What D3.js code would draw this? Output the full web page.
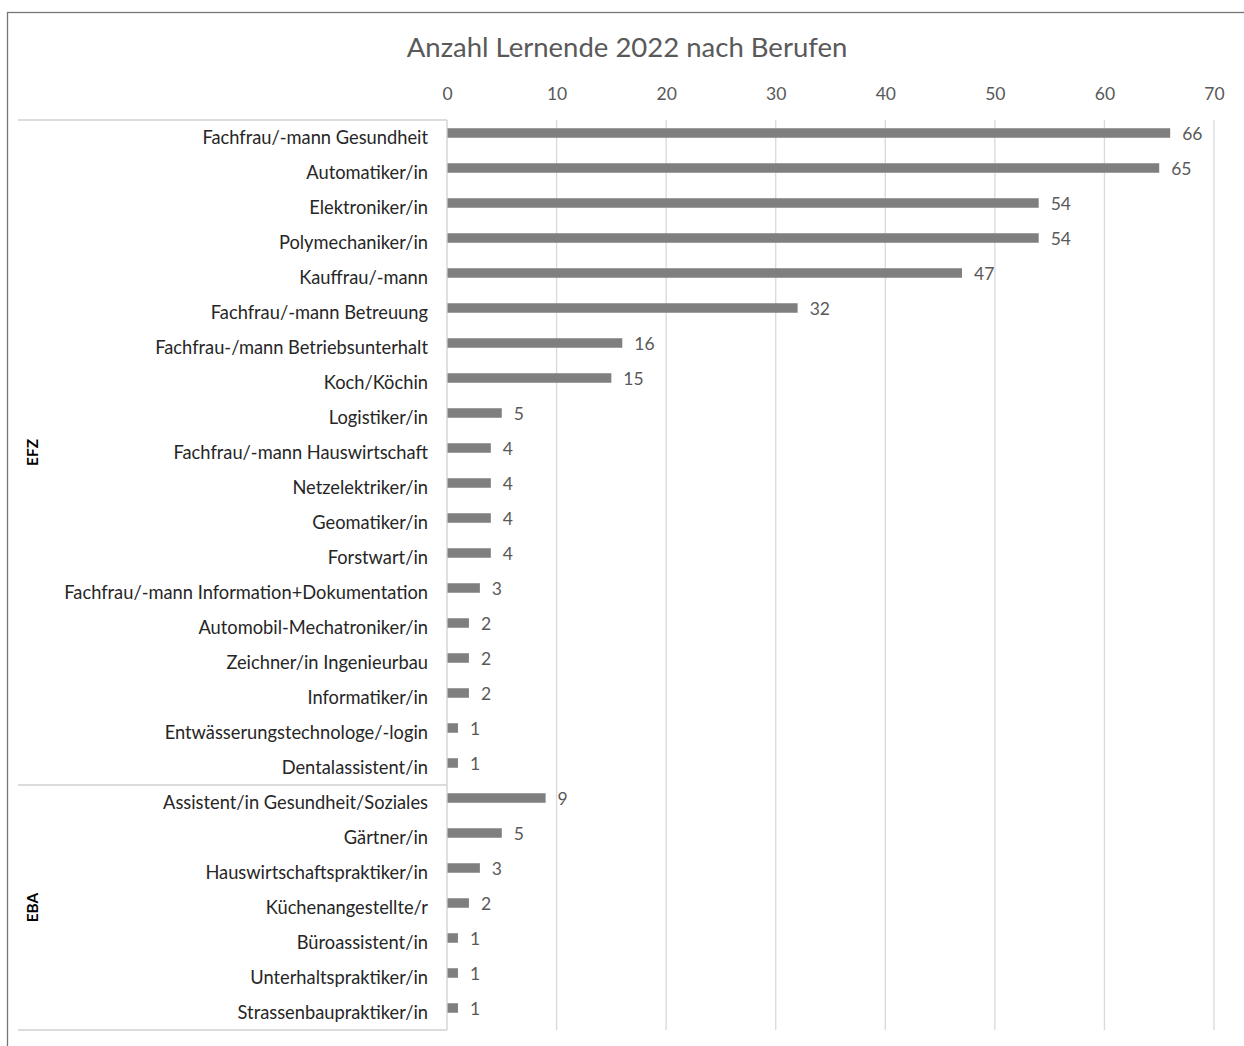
<!DOCTYPE html>
<html>
<head>
<meta charset="utf-8">
<script src="https://cdn.jsdelivr.net/npm/d3@7"></script>
<style>
  body { margin: 0; background: #fff; }
  text { font-family: Lato, "Open Sans", sans-serif; }
</style>
</head>
<body>
<div id="chart"></div>
<script>
// Daten
const efzBerufe = [
  "Fachfrau/-mann Gesundheit", "Automatiker/in", "Elektroniker/in", "Polymechaniker/in",
  "Kauffrau/-mann", "Fachfrau/-mann Betreuung", "Fachfrau-/mann Betriebsunterhalt",
  "Koch/Köchin", "Logistiker/in", "Fachfrau/-mann Hauswirtschaft", "Netzelektriker/in",
  "Geomatiker/in", "Forstwart/in", "Fachfrau/-mann Information+Dokumentation",
  "Automobil-Mechatroniker/in", "Zeichner/in Ingenieurbau", "Informatiker/in",
  "Entwässerungstechnologe/-login", "Dentalassistent/in"
];
const efzWerte = [66, 65, 54, 54, 47, 32, 16, 15, 5, 4, 4, 4, 4, 3, 2, 2, 2, 1, 1];
const ebaBerufe = [
  "Assistent/in Gesundheit/Soziales", "Gärtner/in", "Hauswirtschaftspraktiker/in",
  "Küchenangestellte/r", "Büroassistent/in", "Unterhaltspraktiker/in", "Strassenbaupraktiker/in"
];
const ebaWerte = [9, 5, 3, 2, 1, 1, 1];
const gruppen = ["EFZ", "EBA"];
const xTicks = [0, 10, 20, 30, 40, 50, 60, 70];

const rows = [
  ...efzBerufe.map((b, i) => ({ gruppe: "EFZ", beruf: b, wert: efzWerte[i] })),
  ...ebaBerufe.map((b, i) => ({ gruppe: "EBA", beruf: b, wert: ebaWerte[i] }))
];
rows.forEach((d, i) => (d.key = i));

const W = 1244, H = 1046;
const plotL = 447, plotR = 1214, plotT = 120, plotB = 1030, groupLeft = 18;

const svg = d3.select("#chart").append("svg")
  .attr("width", W).attr("height", H);

// Rahmen
svg.append("rect")
  .attr("x", 7.5).attr("y", 12.5)
  .attr("width", W).attr("height", H)
  .attr("fill", "none").attr("stroke", "#767676").attr("stroke-width", 1.3);

const x = d3.scaleLinear().domain([0, 70]).range([plotL, plotR]);
const y = d3.scaleBand().domain(rows.map((d) => d.key)).range([plotT, plotB]);

// Titel
svg.append("text")
  .attr("x", 627).attr("y", 57)
  .attr("text-anchor", "middle")
  .attr("fill", "#595959")
  .style("font-size", "27.5px")
  .text("Anzahl Lernende 2022 nach Berufen");

// Gitterlinien
svg.append("g").selectAll("line")
  .data(xTicks.slice(1))
  .join("line")
  .attr("x1", (d) => x(d)).attr("x2", (d) => x(d))
  .attr("y1", plotT).attr("y2", plotB)
  .attr("stroke", "#d9d9d9").attr("stroke-width", 1.3);

// Achse oben
const axis = svg.append("g")
  .attr("transform", `translate(0,${plotT})`)
  .call(d3.axisTop(x).tickValues(xTicks).tickSize(0).tickPadding(20));
axis.select(".domain").remove();
axis.selectAll("text")
  .attr("fill", "#595959")
  .style("font-size", "17.5px")
  .style("font-family", "Lato, sans-serif");

// Balken
const barH = 9.5;
svg.append("g").selectAll("rect")
  .data(rows)
  .join("rect")
  .attr("x", x(0))
  .attr("y", (d) => y(d.key) + y.bandwidth() / 2 - 4.5 - barH / 2)
  .attr("width", (d) => x(d.wert) - x(0))
  .attr("height", barH)
  .attr("fill", "#7f7f7f");

// Wertbeschriftungen
svg.append("g").selectAll("text")
  .data(rows)
  .join("text")
  .attr("x", (d) => x(d.wert) + 12)
  .attr("y", (d) => y(d.key) + y.bandwidth() / 2 - 4)
  .attr("dy", "0.35em")
  .attr("fill", "#595959")
  .style("font-size", "17.5px")
  .text((d) => d.wert);

// Kategorien
svg.append("g").selectAll("text")
  .data(rows)
  .join("text")
  .attr("x", plotL - 19)
  .attr("y", (d) => y(d.key) + y.bandwidth() / 2)
  .attr("dy", "0.35em")
  .attr("text-anchor", "end")
  .attr("fill", "#262626")
  .style("font-size", "18.3px")
  .text((d) => d.beruf);

// Gruppen
const axisColor = "#d0d0d0";
svg.append("line")
  .attr("x1", plotL).attr("x2", plotL).attr("y1", plotT).attr("y2", plotB)
  .attr("stroke", axisColor).attr("stroke-width", 1.3);

const grenzen = [plotT];
gruppen.forEach((g) => {
  const gr = rows.filter((d) => d.gruppe === g);
  const y0 = y(gr[0].key), y1 = y(gr[gr.length - 1].key) + y.bandwidth();
  grenzen.push(y1);
  svg.append("text")
    .attr("transform", `translate(38,${(y0 + y1) / 2}) rotate(-90)`)
    .attr("text-anchor", "middle")
    .attr("fill", "#000")
    .style("font-size", "15.5px")
    .style("font-weight", "bold")
    .text(g);
});
svg.append("g").selectAll("line")
  .data(grenzen)
  .join("line")
  .attr("x1", groupLeft).attr("x2", plotL)
  .attr("y1", (d) => d).attr("y2", (d) => d)
  .attr("stroke", axisColor).attr("stroke-width", 1.3);
</script>
</body>
</html>
